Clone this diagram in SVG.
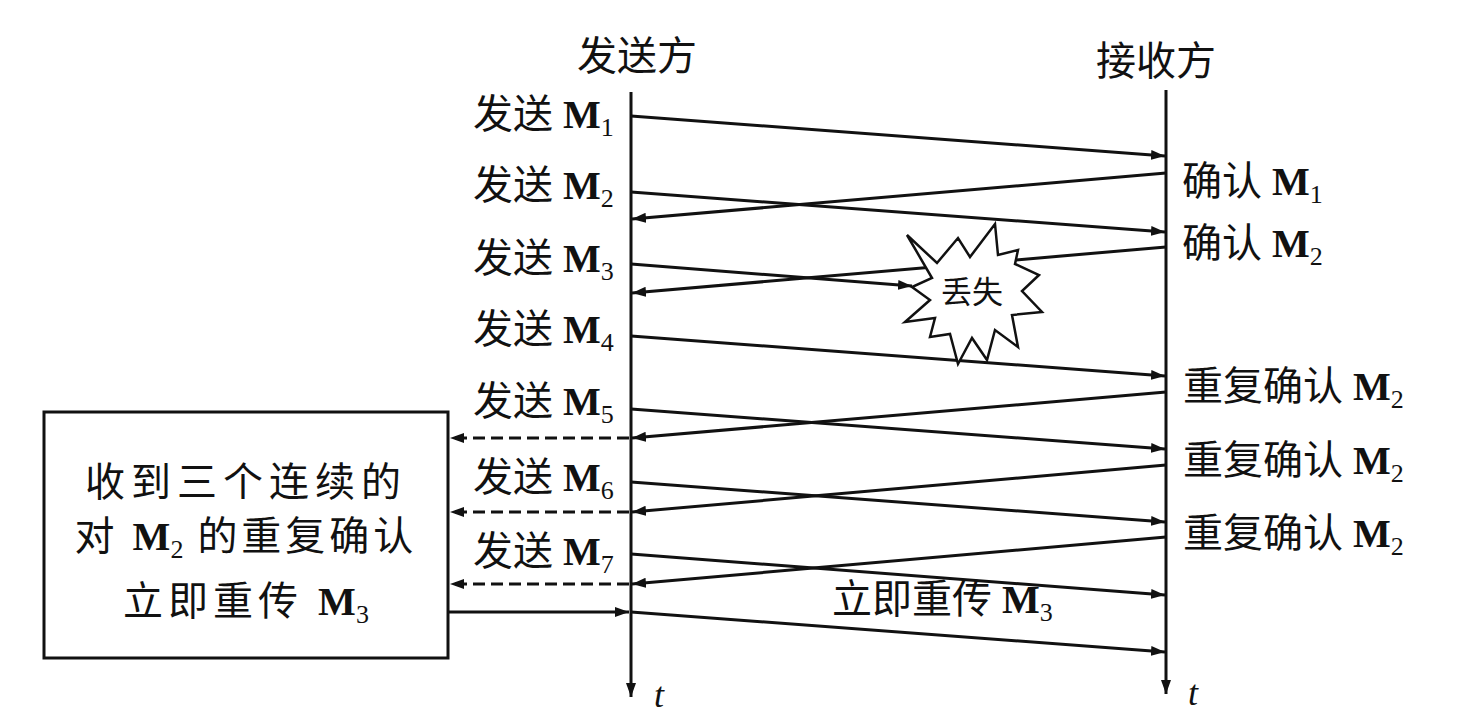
<svg xmlns="http://www.w3.org/2000/svg" width="1478" height="726" viewBox="0 0 1478 726">
<style>
.t{font-family:"Liberation Serif","Noto Sans CJK SC",serif;font-size:40px;fill:#111}
.m{font-weight:bold}
.s{font-size:26px}
.ln{stroke:#111;stroke-width:3;fill:none}
.ds{stroke:#111;stroke-width:3;fill:none;stroke-dasharray:12 6}
.it{font-family:"Liberation Serif",serif;font-style:italic;font-size:36px;fill:#111}
</style>
<defs>
<marker id="ah" markerUnits="userSpaceOnUse" markerWidth="16" markerHeight="12" refX="14" refY="6" orient="auto">
<path d="M0,1 L14,6 L0,11 z" fill="#111"/>
</marker>
</defs>
<rect width="1478" height="726" fill="#fff"/>

<g id="sender">
<line class="ln" x1="631" y1="92" x2="631" y2="697" marker-end="url(#ah)"/>
<text class="t" x="637" y="70" text-anchor="middle">发送方</text>
<text class="it" x="654" y="707">t</text>
</g>
<g id="receiver">
<line class="ln" x1="1166" y1="90" x2="1166" y2="694" marker-end="url(#ah)"/>
<text class="t" x="1156" y="75" text-anchor="middle">接收方</text>
<text class="it" x="1188" y="705">t</text>
</g>

<g id="connectors">
<line class="ln" x1="631" y1="116" x2="1165" y2="156" marker-end="url(#ah)"/>
<line class="ln" x1="1166" y1="173" x2="632" y2="219" marker-end="url(#ah)"/>
<line class="ln" x1="631" y1="192" x2="1165" y2="232" marker-end="url(#ah)"/>
<line class="ln" x1="1166" y1="247" x2="632" y2="293" marker-end="url(#ah)"/>
<line class="ln" x1="631" y1="264" x2="912" y2="286" marker-end="url(#ah)"/>
<line class="ln" x1="631" y1="336" x2="1165" y2="376" marker-end="url(#ah)"/>
<line class="ln" x1="1166" y1="392" x2="632" y2="438" marker-end="url(#ah)"/>
<line class="ln" x1="631" y1="409" x2="1165" y2="449" marker-end="url(#ah)"/>
<line class="ln" x1="1166" y1="465" x2="632" y2="512" marker-end="url(#ah)"/>
<line class="ln" x1="631" y1="482" x2="1165" y2="522" marker-end="url(#ah)"/>
<line class="ln" x1="1166" y1="537" x2="632" y2="584" marker-end="url(#ah)"/>
<line class="ln" x1="631" y1="554" x2="1165" y2="595" marker-end="url(#ah)"/>
<line class="ln" x1="631" y1="612" x2="1165" y2="652" marker-end="url(#ah)"/>
<line class="ds" x1="629" y1="438" x2="450" y2="438" marker-end="url(#ah)"/>
<line class="ds" x1="629" y1="512" x2="450" y2="512" marker-end="url(#ah)"/>
<line class="ds" x1="629" y1="584" x2="450" y2="584" marker-end="url(#ah)"/>
<line class="ln" x1="449" y1="612" x2="629" y2="612" marker-end="url(#ah)"/>
</g>

<g id="loss">
<polygon points="907,235 937,263 958,238 970,257 995,224 998,255 1018,250 1015,264 1039,275 1022,291 1042,312 1012,315 1018,347 995,330 987,360 972,338 958,364 950,334 930,337 935,318 905,322 930,300 912,287 932,278" fill="#fff" stroke="#111" stroke-width="2.5" stroke-linejoin="miter"/>
<text class="t" x="972" y="303" text-anchor="middle" style="font-size:31px">丢失</text>
</g>

<g id="labels-send">
<text class="t" x="473" y="128">发送 <tspan class="m">M</tspan><tspan class="s" dy="8">1</tspan></text>
<text class="t" x="473" y="199">发送 <tspan class="m">M</tspan><tspan class="s" dy="8">2</tspan></text>
<text class="t" x="473" y="272">发送 <tspan class="m">M</tspan><tspan class="s" dy="8">3</tspan></text>
<text class="t" x="473" y="343">发送 <tspan class="m">M</tspan><tspan class="s" dy="8">4</tspan></text>
<text class="t" x="473" y="415">发送 <tspan class="m">M</tspan><tspan class="s" dy="8">5</tspan></text>
<text class="t" x="473" y="491">发送 <tspan class="m">M</tspan><tspan class="s" dy="8">6</tspan></text>
<text class="t" x="473" y="565">发送 <tspan class="m">M</tspan><tspan class="s" dy="8">7</tspan></text>
</g>

<g id="labels-recv">
<text class="t" x="1182" y="195">确认 <tspan class="m">M</tspan><tspan class="s" dy="8">1</tspan></text>
<text class="t" x="1182" y="257">确认 <tspan class="m">M</tspan><tspan class="s" dy="8">2</tspan></text>
<text class="t" x="1183" y="400">重复确认 <tspan class="m">M</tspan><tspan class="s" dy="8">2</tspan></text>
<text class="t" x="1183" y="474">重复确认 <tspan class="m">M</tspan><tspan class="s" dy="8">2</tspan></text>
<text class="t" x="1183" y="547">重复确认 <tspan class="m">M</tspan><tspan class="s" dy="8">2</tspan></text>
</g>

<g id="retransmit-label">
<text class="t" x="832" y="613">立即重传 <tspan class="m">M</tspan><tspan class="s" dy="8">3</tspan></text>
</g>

<g id="box">
<rect x="44" y="412" width="404" height="246" fill="#fff" stroke="#111" stroke-width="3"/>
<text class="t" x="246" y="496" text-anchor="middle" letter-spacing="6">收到三个连续的</text>
<text class="t" x="246" y="550" text-anchor="middle"><tspan letter-spacing="4">对 </tspan><tspan class="m">M</tspan><tspan class="s" dy="8">2</tspan><tspan dy="-8" letter-spacing="4"> 的重复确认</tspan></text>
<text class="t" x="246" y="615" text-anchor="middle"><tspan letter-spacing="5">立即重传 </tspan><tspan class="m">M</tspan><tspan class="s" dy="8">3</tspan></text>
</g>
</svg>
